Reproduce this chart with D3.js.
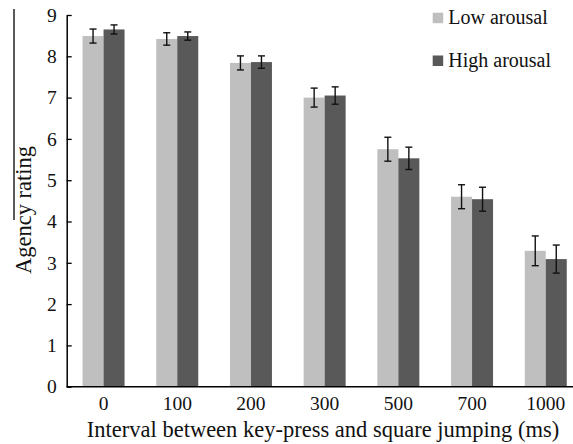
<!DOCTYPE html>
<html>
<head>
<meta charset="utf-8">
<script src="https://cdn.jsdelivr.net/npm/d3@7"></script>
<style>
  body { margin: 0; background: #fff; }
</style>
</head>
<body>
<svg id="chart" width="573" height="444" style="font-family: 'Liberation Serif'"></svg>
<script>
const categories = ["0", "100", "200", "300", "500", "700", "1000"];
const series = ["Low arousal", "High arousal"];
const lowValues = [8.49, 8.42, 7.84, 7.00, 5.75, 4.60, 3.29];
const lowErrors = [0.17, 0.15, 0.17, 0.23, 0.29, 0.29, 0.36];
const highValues = [8.65, 8.49, 7.86, 7.05, 5.53, 4.54, 3.09];
const highErrors = [0.11, 0.10, 0.15, 0.21, 0.27, 0.29, 0.34];
const yTicks = [0, 1, 2, 3, 4, 5, 6, 7, 8, 9];
const colors = ["#bfbfbf", "#595959"];
const FONT = "Liberation Serif";

const svg = d3.select("#chart");
const x0 = 66.7, x1 = 582.6, yBottom = 386.7, yTop = 15;

const x = d3.scaleBand().domain(categories).range([x0, x1])
  .paddingInner(0.43).paddingOuter(0.215);
const xs = d3.scaleBand().domain(series).range([0, x.bandwidth()]);
const y = d3.scaleLinear().domain([0, 9]).range([yBottom, yTop]);

const data = categories.map((c, i) => ({
  cat: c,
  vals: [
    { s: series[0], v: lowValues[i], e: lowErrors[i], color: colors[0] },
    { s: series[1], v: highValues[i], e: highErrors[i], color: colors[1] }
  ]
}));

// stray vertical rule at left (present in reference)
svg.append("line").attr("x1", 14).attr("x2", 14).attr("y1", 9).attr("y2", 220)
  .attr("stroke", "#000").attr("stroke-width", 1.3);

const groups = svg.selectAll("g.grp").data(data).enter().append("g")
  .attr("class", "grp").attr("transform", d => `translate(${x(d.cat)},0)`);

groups.selectAll("rect").data(d => d.vals).enter().append("rect")
  .attr("x", d => xs(d.s)).attr("width", xs.bandwidth())
  .attr("y", d => y(d.v)).attr("height", d => y(0) - y(d.v))
  .attr("fill", d => d.color);

const eb = groups.selectAll("g.eb").data(d => d.vals).enter().append("g").attr("class", "eb");
const cx = d => xs(d.s) + xs.bandwidth() / 2;
eb.append("line").attr("x1", cx).attr("x2", cx)
  .attr("y1", d => y(d.v + d.e)).attr("y2", d => y(d.v - d.e))
  .attr("stroke", "#111").attr("stroke-width", 1.4);
eb.append("line").attr("x1", d => cx(d) - 3.5).attr("x2", d => cx(d) + 3.5)
  .attr("y1", d => y(d.v + d.e)).attr("y2", d => y(d.v + d.e))
  .attr("stroke", "#111").attr("stroke-width", 1.4);
eb.append("line").attr("x1", d => cx(d) - 3.5).attr("x2", d => cx(d) + 3.5)
  .attr("y1", d => y(d.v - d.e)).attr("y2", d => y(d.v - d.e))
  .attr("stroke", "#111").attr("stroke-width", 1.4);

// Y axis
const yAxis = svg.append("g").attr("transform", `translate(${x0},0)`)
  .call(d3.axisLeft(y).tickValues(yTicks).tickFormat(d3.format("d"))
    .tickSizeInner(-5).tickSizeOuter(0).tickPadding(10));
yAxis.attr("font-family", FONT).attr("font-size", 19.5);
yAxis.select(".domain").attr("stroke", "#000").attr("stroke-width", 1.5);
yAxis.selectAll(".tick line").attr("stroke", "#000").attr("stroke-width", 1.3);
yAxis.selectAll(".tick text").style("font-family", FONT)
  .style("font-size", "19.5px").attr("fill", "#111");

// X axis
const xAxis = svg.append("g").attr("transform", `translate(0,${yBottom})`)
  .call(d3.axisBottom(x).tickSize(0).tickPadding(9));
xAxis.attr("font-family", FONT).attr("font-size", 19.5);
xAxis.select(".domain").attr("d", `M${x0},0H573`).attr("stroke", "#000").attr("stroke-width", 1.5);
xAxis.selectAll(".tick text").style("font-family", FONT)
  .style("font-size", "19.5px").attr("fill", "#111");

// Axis titles
svg.append("text").attr("x", (87 + 559) / 2).attr("y", 437)
  .attr("text-anchor", "middle").style("font-family", FONT).style("font-size", "22.5px").attr("fill", "#111")
  .text("Interval between key-press and square jumping (ms)");
svg.append("text").attr("transform", "translate(31,210) rotate(-90)")
  .attr("text-anchor", "middle").style("font-family", FONT).style("font-size", "22.5px").attr("fill", "#111")
  .text("Agency rating");

// Legend
const legend = svg.append("g");
const legY = [12.7, 55.5];
const legBase = [24, 66.5];
series.forEach((s, i) => {
  legend.append("rect").attr("x", 432.7).attr("y", legY[i]).attr("width", 10.5).attr("height", 10.5)
    .attr("fill", colors[i]);
  legend.append("text").attr("x", 448.3).attr("y", legBase[i])
    .style("font-family", FONT).style("font-size", "20px").attr("fill", "#111").text(s);
});
</script>
</body>
</html>
